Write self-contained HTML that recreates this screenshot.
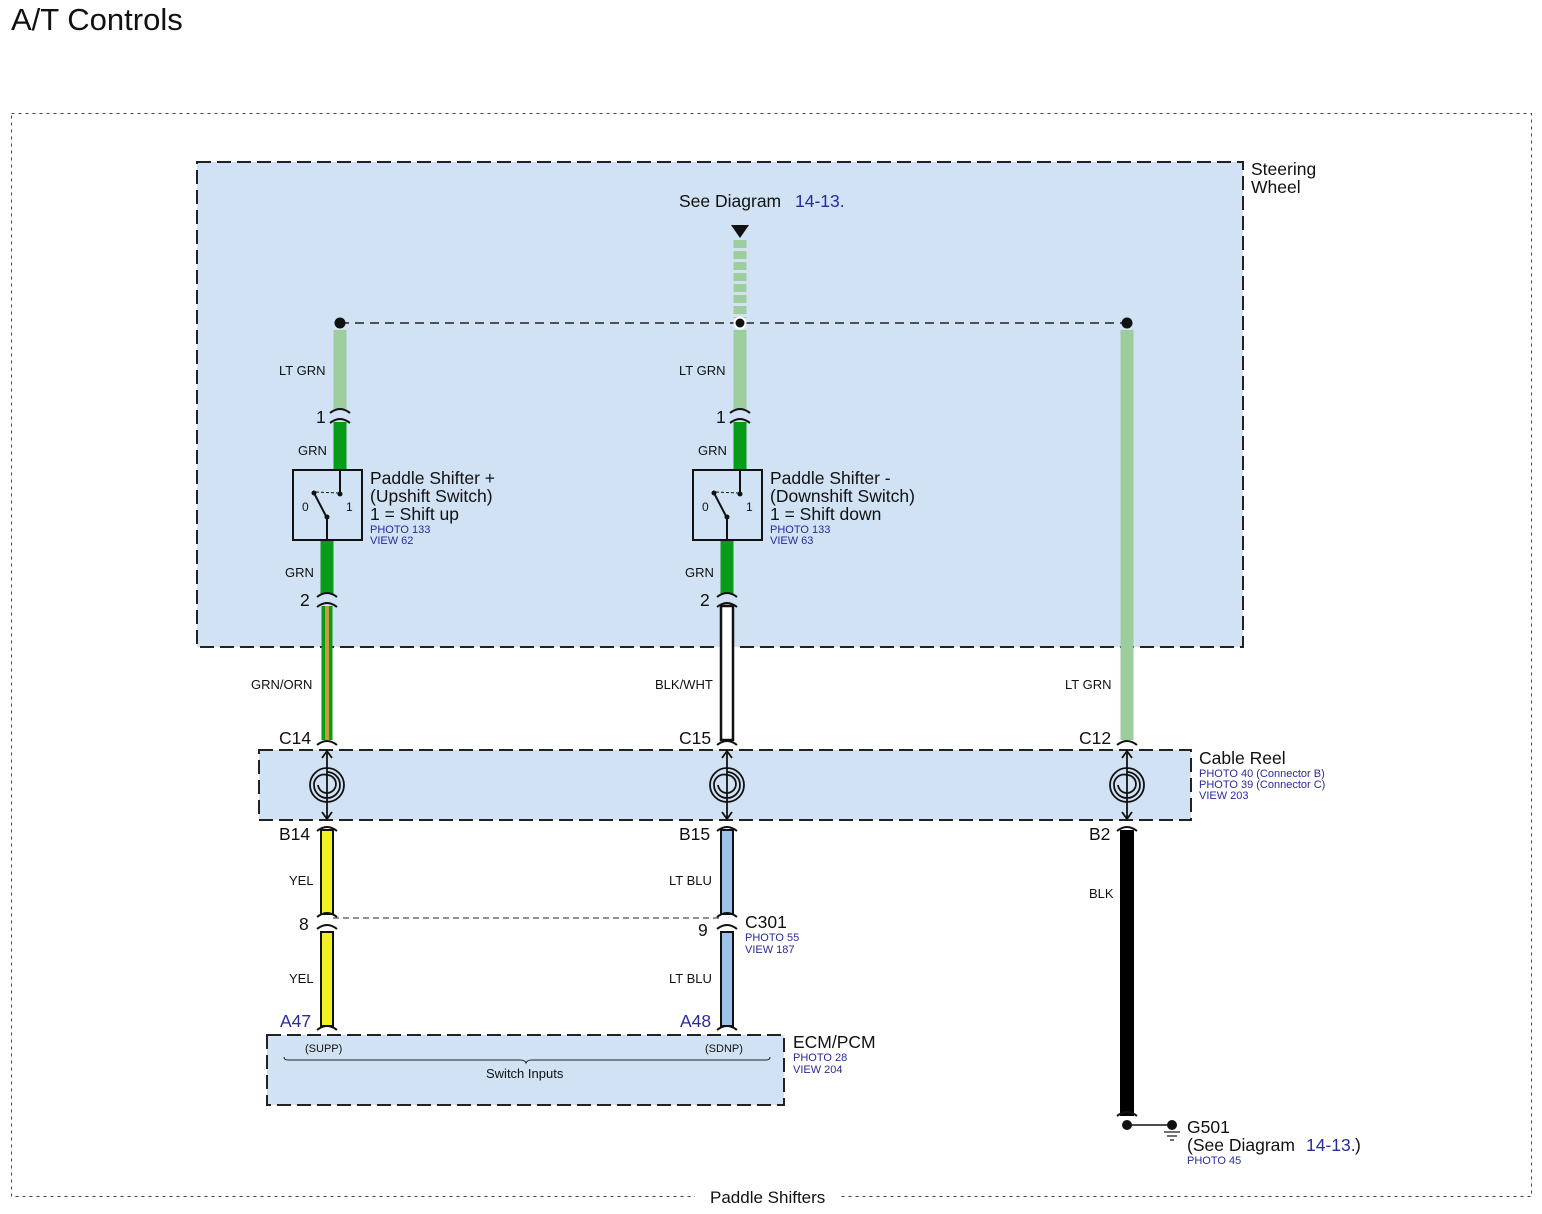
<!DOCTYPE html>
<html><head><meta charset="utf-8"><style>
html,body{margin:0;padding:0;background:#fff}
svg{display:block}
text{font-family:"Liberation Sans",sans-serif;fill:#111}
.s{font-size:13px}
.m{font-size:17.5px}
.b{fill:#2a2a9a;font-size:11px}
.bl{fill:#2a2a9a}
</style></head><body>
<svg width="1542" height="1214" viewBox="0 0 1542 1214" xmlns="http://www.w3.org/2000/svg">
<text x="11" y="30" style="font-size:31px">A/T Controls</text>
<rect x="11.5" y="113.5" width="1520" height="1083" fill="none" stroke="#444" stroke-dasharray="3,4"/>
<rect x="695" y="1186" width="145" height="20" fill="#fff"/>
<text x="710" y="1203" style="font-size:17px">Paddle Shifters</text>

<rect x="197" y="162" width="1046" height="485" fill="#d0e2f4" stroke="#222" stroke-width="2" stroke-dasharray="14,6"/>
<text x="1251" y="175" class="m">Steering</text><text x="1251" y="193" class="m">Wheel</text>
<rect x="259" y="750" width="932" height="70" fill="#d0e2f4" stroke="#222" stroke-width="2" stroke-dasharray="14,6"/>
<text x="1199" y="764" class="m">Cable Reel</text>
<text x="1199" y="777" class="b">PHOTO 40 (Connector B)</text>
<text x="1199" y="788" class="b">PHOTO 39 (Connector C)</text>
<text x="1199" y="799" class="b">VIEW 203</text>
<rect x="267" y="1035" width="517" height="70" fill="#d0e2f4" stroke="#222" stroke-width="2" stroke-dasharray="14,6"/>
<text x="793" y="1048" class="m">ECM/PCM</text>
<text x="793" y="1061" class="b">PHOTO 28</text>
<text x="793" y="1073" class="b">VIEW 204</text>
<text x="305" y="1052" style="font-size:11px">(SUPP)</text>
<text x="705" y="1052" style="font-size:11px">(SDNP)</text>
<path d="M284 1057 q0 3 4 3 L520 1060 q5 0 6 3 q1 -3 6 -3 L766 1060 q4 0 4 -3" fill="none" stroke="#222"/>
<text x="486" y="1078" style="font-size:13px">Switch Inputs</text>

<text x="679" y="207" class="m">See Diagram</text><text x="795" y="207" class="m bl">14-13.</text>
<path d="M731 225 L749 225 L740 238 Z" fill="#111"/>
<line x1="740" y1="240" x2="740" y2="318" stroke="#9dcc9d" stroke-width="13" stroke-dasharray="8,3"/>
<line x1="340" y1="323" x2="1127" y2="323" stroke="#222" stroke-width="1.5" stroke-dasharray="9,6"/>

<g stroke-linecap="butt">
<line x1="340" y1="330" x2="340" y2="410" stroke="#9dcc9d" stroke-width="13"/>
<line x1="740" y1="330" x2="740" y2="410" stroke="#9dcc9d" stroke-width="13"/>
<line x1="1127" y1="330" x2="1127" y2="740" stroke="#9dcc9d" stroke-width="13"/>
<line x1="340" y1="422" x2="340" y2="470" stroke="#0a9a1a" stroke-width="13"/>
<line x1="740" y1="422" x2="740" y2="470" stroke="#0a9a1a" stroke-width="13"/>
<line x1="327" y1="540" x2="327" y2="594" stroke="#0a9a1a" stroke-width="13"/>
<line x1="727" y1="540" x2="727" y2="594" stroke="#0a9a1a" stroke-width="13"/>
<line x1="327" y1="606" x2="327" y2="740" stroke="#0a9a1a" stroke-width="11"/>
<line x1="327" y1="606" x2="327" y2="740" stroke="#c89a3a" stroke-width="4"/>
<rect x="721" y="606" width="12" height="134" fill="#fff" stroke="#111" stroke-width="2.5"/>
<rect x="321" y="830" width="12" height="84" fill="#f2f022" stroke="#111" stroke-width="2"/>
<rect x="321" y="932" width="12" height="94" fill="#f2f022" stroke="#111" stroke-width="2"/>
<rect x="721" y="830" width="12" height="84" fill="#9cc4ea" stroke="#111" stroke-width="2"/>
<rect x="721" y="932" width="12" height="94" fill="#9cc4ea" stroke="#111" stroke-width="2"/>
<line x1="1127" y1="830" x2="1127" y2="1116" stroke="#000" stroke-width="14"/>
</g>

<circle cx="340" cy="323" r="5.5" fill="#111"/>
<circle cx="740" cy="323" r="5.5" fill="#111" stroke="#fff" stroke-width="2"/>
<circle cx="1127" cy="323" r="5.5" fill="#111"/>

<g fill="none" stroke="#111" stroke-width="2">
<path d="M330 413 Q340 405 350 413 M330 423 Q340 415 350 423"/>
<path d="M730 413 Q740 405 750 413 M730 423 Q740 415 750 423"/>
<path d="M317 597 Q327 589 337 597 M317 607 Q327 599 337 607"/>
<path d="M717 597 Q727 589 737 597 M717 607 Q727 599 737 607"/>
<path d="M317 745 Q327 737 337 745"/>
<path d="M717 745 Q727 737 737 745"/>
<path d="M1117 745 Q1127 737 1137 745"/>
<path d="M317 831 Q327 823 337 831"/>
<path d="M717 831 Q727 823 737 831"/>
<path d="M1117 831 Q1127 823 1137 831"/>
<path d="M317 917 Q327 909 337 917 M317 929 Q327 921 337 929"/>
<path d="M717 917 Q727 909 737 917 M717 929 Q727 921 737 929"/>
<path d="M317 1030 Q327 1022 337 1030"/>
<path d="M717 1030 Q727 1022 737 1030"/>
<path d="M1117 1116 Q1127 1108 1137 1116"/>
</g>
<line x1="333" y1="918" x2="721" y2="918" stroke="#222" stroke-dasharray="6,4"/>

<g fill="none" stroke="#111" stroke-width="1.8">
<g id="sp">
<line x1="327" y1="752" x2="327" y2="818"/>
<path d="M322 758 L327 751 L332 758 M322 812 L327 819 L332 812"/>
<circle cx="327" cy="785" r="17"/>
<path d="M327 772 A13 13 0 1 1 314 785 A10 10 0 0 1 327 775 A9 9 0 1 1 318 785"/>
</g>
<use href="#sp" x="400"/>
<use href="#sp" x="800"/>
</g>

<g fill="none" stroke="#111" stroke-width="2">
<rect x="293" y="470" width="69" height="70" fill="#d0e2f4"/>
<rect x="693" y="470" width="69" height="70" fill="#d0e2f4"/>
<path d="M340 470 L340 494 M327 518 L327 540 M327 518 L314 493"/>
<path d="M740 470 L740 494 M727 518 L727 540 M727 518 L714 493"/>
</g>
<g stroke="#111" stroke-dasharray="3,2"><line x1="316" y1="492" x2="338" y2="493"/><line x1="716" y1="492" x2="738" y2="493"/></g>
<g fill="#111"><circle cx="340" cy="494" r="2.5"/><circle cx="327" cy="517" r="2.5"/><circle cx="314" cy="493" r="2.5"/>
<circle cx="740" cy="494" r="2.5"/><circle cx="727" cy="517" r="2.5"/><circle cx="714" cy="493" r="2.5"/></g>
<text x="302" y="511" style="font-size:12px">0</text><text x="346" y="511" style="font-size:12px">1</text>
<text x="702" y="511" style="font-size:12px">0</text><text x="746" y="511" style="font-size:12px">1</text>

<text x="370" y="484" class="m">Paddle Shifter +</text>
<text x="370" y="502" class="m">(Upshift Switch)</text>
<text x="370" y="520" class="m">1 = Shift up</text>
<text x="370" y="533" class="b">PHOTO 133</text><text x="370" y="544" class="b">VIEW 62</text>
<text x="770" y="484" class="m">Paddle Shifter -</text>
<text x="770" y="502" class="m">(Downshift Switch)</text>
<text x="770" y="520" class="m">1 = Shift down</text>
<text x="770" y="533" class="b">PHOTO 133</text><text x="770" y="544" class="b">VIEW 63</text>

<text x="279" y="375" class="s">LT GRN</text><text x="679" y="375" class="s">LT GRN</text>
<text x="316" y="423" class="m">1</text><text x="716" y="423" class="m">1</text>
<text x="298" y="455" class="s">GRN</text><text x="698" y="455" class="s">GRN</text>
<text x="285" y="577" class="s">GRN</text><text x="685" y="577" class="s">GRN</text>
<text x="300" y="606" class="m">2</text><text x="700" y="606" class="m">2</text>
<text x="251" y="689" class="s">GRN/ORN</text><text x="655" y="689" class="s">BLK/WHT</text><text x="1065" y="689" class="s">LT GRN</text>
<text x="279" y="744" class="m">C14</text><text x="679" y="744" class="m">C15</text><text x="1079" y="744" class="m">C12</text>
<text x="279" y="840" class="m">B14</text><text x="679" y="840" class="m">B15</text><text x="1089" y="840" class="m">B2</text>
<text x="289" y="885" class="s">YEL</text><text x="669" y="885" class="s">LT BLU</text><text x="1089" y="898" class="s">BLK</text>
<text x="299" y="930" class="m">8</text><text x="698" y="936" class="m">9</text>
<text x="745" y="928" class="m">C301</text><text x="745" y="941" class="b">PHOTO 55</text><text x="745" y="953" class="b">VIEW 187</text>
<text x="289" y="983" class="s">YEL</text><text x="669" y="983" class="s">LT BLU</text>
<text x="280" y="1027" class="m bl">A47</text><text x="680" y="1027" class="m bl">A48</text>

<circle cx="1127" cy="1125" r="5" fill="#111"/>
<line x1="1127" y1="1125" x2="1170" y2="1125" stroke="#111" stroke-width="1.5"/>
<circle cx="1172" cy="1125" r="5" fill="#111"/>
<g stroke="#111" stroke-width="1.2"><line x1="1164" y1="1132" x2="1180" y2="1132"/><line x1="1167" y1="1136" x2="1177" y2="1136"/><line x1="1170" y1="1140" x2="1174" y2="1140"/></g>
<text x="1187" y="1133" class="m">G501</text>
<text x="1187" y="1151" class="m">(See Diagram</text><text x="1306" y="1151" class="m bl">14-13.</text><text x="1355" y="1151" class="m">)</text>
<text x="1187" y="1164" class="b">PHOTO 45</text>
</svg>
</body></html>
